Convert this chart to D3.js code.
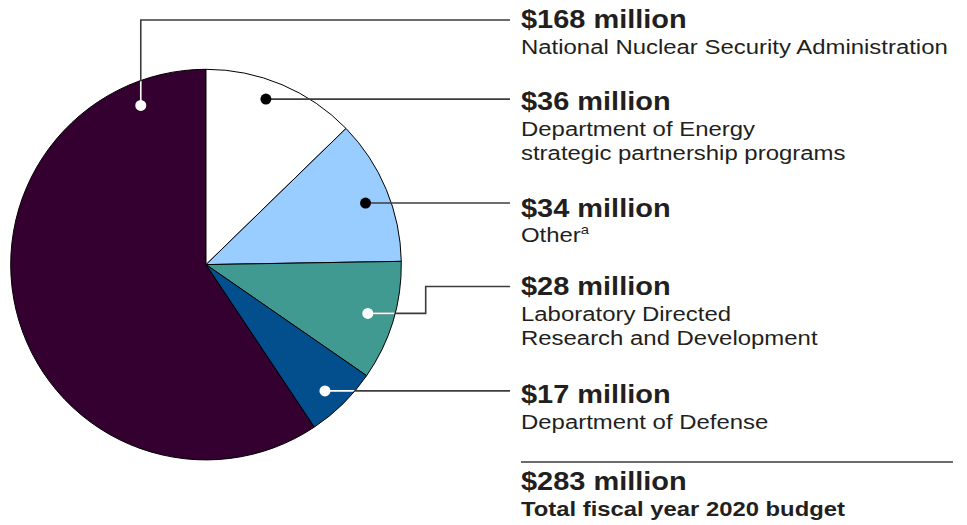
<!DOCTYPE html>
<html>
<head>
<meta charset="utf-8">
<script src="https://cdn.jsdelivr.net/npm/d3@7"></script>
<style>
html,body{margin:0;padding:0;background:#fff;}
svg{display:block;}
</style>
</head>
<body>
<svg id="chart" width="967" height="525"></svg>
<script>
// ---- data ----
const categories = [
  "National Nuclear Security Administration",
  "Department of Energy strategic partnership programs",
  "Other",
  "Laboratory Directed Research and Development",
  "Department of Defense"
];
const values = [168, 36, 34, 28, 17];
const labelLines = [
  ["National Nuclear Security Administration"],
  ["Department of Energy", "strategic partnership programs"],
  ["Other"],
  ["Laboratory Directed", "Research and Development"],
  ["Department of Defense"]
];
const footnotes = ["", "", "a", "", ""];
const totalLabel = "Total fiscal year 2020 budget";

// ---- styles / layout ----
const sliceColors = ["#330030", "#ffffff", "#99ccff", "#409a92", "#034f8e"];
const dotColors = ["#ffffff", "#000000", "#000000", "#ffffff", "#ffffff"];
const dotFrac = [0.8957, 0.4345, 0.534, 0.498, 0.557];
const dotRadius = [172, 176, 171, 169, 173.5];
const labelY = [28, 110, 216.5, 295, 403];

const W = 967, H = 525;
const cx = 206, cy = 264.6, R = 195.3;
const textX = 521, leaderEndX = 510;
const sx = 1.14;
const textColor = "#231f20", lineColor = "#3c3c3c";

const svg = d3.select("#chart");
const total = d3.sum(values);
const a0 = -2 * Math.PI * values[0] / total;

const pie = d3.pie().sort(null).value(d => d).startAngle(a0).endAngle(a0 + 2 * Math.PI);
const arcs = pie(values);
const arc = d3.arc().innerRadius(0).outerRadius(R);

const defs = svg.append("defs");
defs.append("clipPath").attr("id", "pieClip")
  .append("circle").attr("cx", cx).attr("cy", cy).attr("r", R - 0.8);

const g = svg.append("g").attr("transform", `translate(${cx},${cy})`);
g.selectAll("path.slice").data(arcs).enter().append("path")
  .attr("class", "slice")
  .attr("d", arc)
  .attr("fill", (d, i) => sliceColors[i])
  .attr("stroke", "#000")
  .attr("stroke-width", 1)
  .attr("stroke-linejoin", "round");

// dot positions
const dots = arcs.map((d, i) => {
  const ang = d.startAngle + dotFrac[i] * (d.endAngle - d.startAngle);
  return [cx + dotRadius[i] * Math.sin(ang), cy - dotRadius[i] * Math.cos(ang)];
});

// leader paths
const leaders = dots.map((p, i) => {
  if (i === 0) return [p, [p[0], 20], [leaderEndX, 20]];
  if (i === 3) return [p, [425.7, p[1]], [425.7, 286.5], [leaderEndX, 286.5]];
  return [p, [leaderEndX, p[1]]];
});
const line = d3.line();

svg.append("g").selectAll("path").data(leaders).enter().append("path")
  .attr("d", d => line(d))
  .attr("fill", "none")
  .attr("stroke", lineColor)
  .attr("stroke-width", 1.6);

svg.append("g").attr("clip-path", "url(#pieClip)")
  .selectAll("path").data(leaders.filter((d, i) => dotColors[i] === "#ffffff")).enter().append("path")
  .attr("d", d => line(d))
  .attr("fill", "none")
  .attr("stroke", "#ffffff")
  .attr("stroke-width", 1.6);

svg.append("g").selectAll("circle").data(dots).enter().append("circle")
  .attr("cx", d => d[0]).attr("cy", d => d[1]).attr("r", 5.5)
  .attr("fill", (d, i) => dotColors[i]);

// labels
const fmt = v => "$" + v + " million";
const labels = svg.append("g").attr("fill", textColor).attr("font-family", "'Liberation Sans', Arial, Helvetica, sans-serif");

values.forEach((v, i) => {
  labels.append("text")
    .attr("transform", `translate(${textX},${labelY[i]}) scale(${sx},1)`)
    .attr("font-size", 25.4).attr("font-weight", "bold")
    .text(fmt(v));
  labelLines[i].forEach((ln, j) => {
    const t = labels.append("text")
      .attr("transform", `translate(${textX},${labelY[i] + 25.5 + j * 24.8}) scale(${sx},1)`)
      .attr("font-size", 21)
      .text(ln);
    if (footnotes[i] && j === labelLines[i].length - 1) {
      t.append("tspan").attr("font-size", 13).attr("dy", -8).text(footnotes[i]);
    }
  });
});

// total
svg.append("line")
  .attr("x1", textX).attr("x2", 953).attr("y1", 462).attr("y2", 462)
  .attr("stroke", "#6b6b6b").attr("stroke-width", 2);
labels.append("text")
  .attr("transform", `translate(${textX},490) scale(${sx},1)`)
  .attr("font-size", 25.4).attr("font-weight", "bold")
  .text(fmt(total));
labels.append("text")
  .attr("transform", `translate(${textX},515.5) scale(${sx},1)`)
  .attr("font-size", 20.9).attr("font-weight", "bold")
  .text(totalLabel);
</script>
</body>
</html>
